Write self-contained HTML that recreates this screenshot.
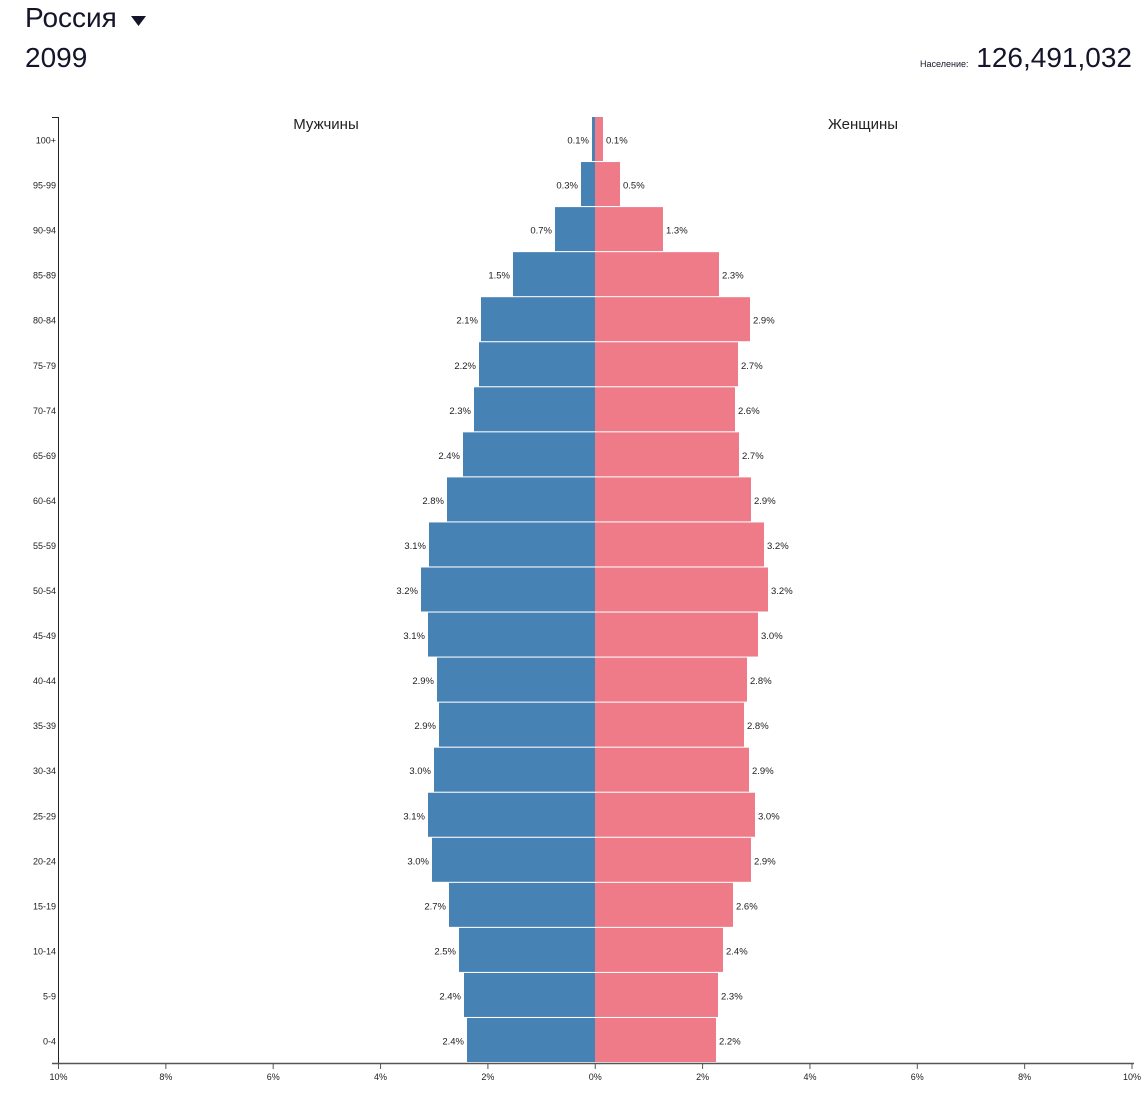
<!DOCTYPE html>
<html><head><meta charset="utf-8"><style>
body{margin:0;background:#fff;width:1145px;height:1097px;overflow:hidden;font-family:"Liberation Sans","DejaVu Sans",sans-serif;color:#1a1a2e}
</style></head><body>
<svg width="1145" height="1097" xmlns="http://www.w3.org/2000/svg" font-family="Liberation Sans, DejaVu Sans, sans-serif">
<text x="25" y="27" font-size="28" fill="#14142b">Россия</text>
<path d="M131 16 L146 16 L138.5 26 Z" fill="#14142b"/>
<text x="25" y="67" font-size="28" fill="#14142b">2099</text>
<text x="920" y="67" font-size="9" fill="#14142b">Население:</text>
<text x="1132" y="67" font-size="28" text-anchor="end" fill="#14142b">126,491,032</text>
<text x="326" y="129" font-size="15" text-anchor="middle" fill="#222">Мужчины</text>
<text x="863" y="129" font-size="15" text-anchor="middle" fill="#222">Женщины</text>
<g id="bars"></g>
<line x1="58.5" y1="117" x2="58.5" y2="1063" stroke="#222" stroke-width="1"/>
<line x1="52" y1="117.5" x2="58.5" y2="117.5" stroke="#222"/>
<line x1="52" y1="1063.5" x2="1134" y2="1063.5" stroke="#555" stroke-width="1.5"/>
<g font-size="9" text-anchor="middle" fill="#222" id="xt"></g>
<g font-size="9" text-anchor="end" fill="#222" id="yl"></g>
</svg>
<script>
var L=[592,581,555,513,481,479,474,463,447,429,421,428,437,439,434,428,432,449,459,464,467];
var R=[603,620,663,719,750,738,735,739,751,764,768,758,747,744,749,755,751,733,723,718,716];
var ml=["0.1%","0.3%","0.7%","1.5%","2.1%","2.2%","2.3%","2.4%","2.8%","3.1%","3.2%","3.1%","2.9%","2.9%","3.0%","3.1%","3.0%","2.7%","2.5%","2.4%","2.4%"];
var fl=["0.1%","0.5%","1.3%","2.3%","2.9%","2.7%","2.6%","2.7%","2.9%","3.2%","3.2%","3.0%","2.8%","2.8%","2.9%","3.0%","2.9%","2.6%","2.4%","2.3%","2.2%"];
var ag=["100+","95-99","90-94","85-89","80-84","75-79","70-74","65-69","60-64","55-59","50-54","45-49","40-44","35-39","30-34","25-29","20-24","15-19","10-14","5-9","0-4"];
var s="",y="";
for(var i=0;i<21;i++){var t=117+i*45.05,c=t+22+4.5;
s+='<rect x="'+L[i]+'" y="'+t+'" width="'+(595-L[i])+'" height="44" fill="#4682b4"/>';
s+='<rect x="595" y="'+t+'" width="'+(R[i]-595)+'" height="44" fill="#ef7a88"/>';
s+='<text x="'+(L[i]-3)+'" y="'+c+'" font-size="9.5" text-anchor="end" fill="#222">'+ml[i]+'</text>';
s+='<text x="'+(R[i]+3)+'" y="'+c+'" font-size="9.5" fill="#222">'+fl[i]+'</text>';
y+='<text x="56" y="'+c+'">'+ag[i]+'</text>';}
document.getElementById("bars").innerHTML=s;
document.getElementById("yl").innerHTML=y;
var x="",lab=["10%","8%","6%","4%","2%","0%","2%","4%","6%","8%","10%"];
for(var k=0;k<11;k++){var px=58.5+k*107.35;x+='<line x1="'+px+'" y1="1063" x2="'+px+'" y2="1069" stroke="#555"/><text x="'+px+'" y="1080">'+lab[k]+'</text>';}
document.getElementById("xt").innerHTML=x;
</script>
</body></html>
